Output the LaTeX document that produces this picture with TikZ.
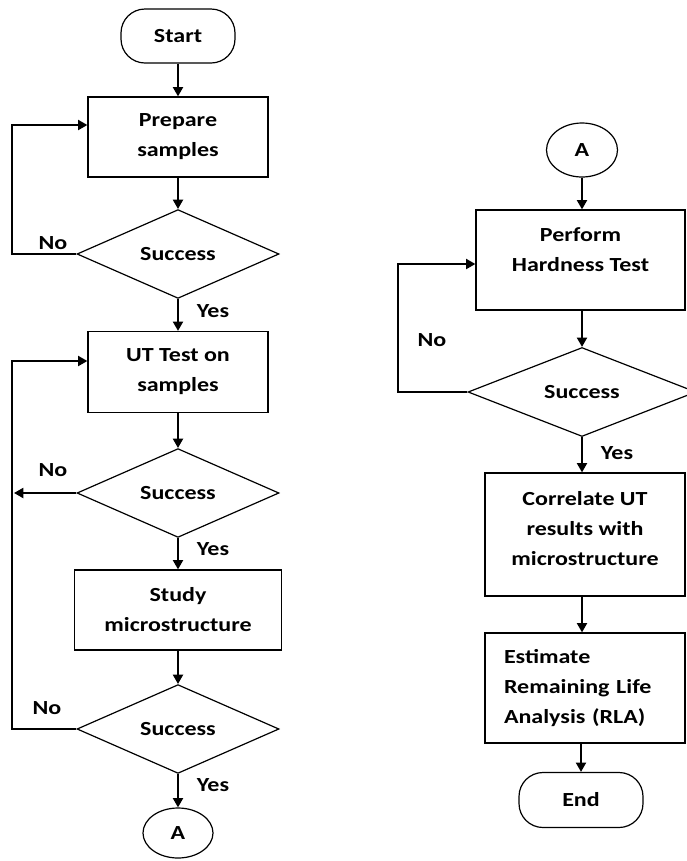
\documentclass[tikz,border=0pt]{standalone}
\usepackage{fontspec}
\setmainfont{Carlito}[FakeStretch=1.2]
\usepackage{tikz}
\usetikzlibrary{positioning,arrows.meta,shapes.geometric,calc}
\tikzset{
  base/.style={
    draw=black,
    line width=0.9pt,
    inner sep=0pt,
    align=center,
    font=\fontsize{15}{22.5}\selectfont\bfseries
  },
  terminal/.style={
    base,
    rectangle,
    rounded corners=18pt
  },
  process/.style={
    base,
    rectangle
  },
  decision/.style={
    base,
    diamond,
    minimum width=151.5pt,
    minimum height=65.25pt
  },
  connector/.style={
    base,
    ellipse
  },
  lbl/.style={
    font=\fontsize{15}{18}\selectfont\bfseries
  },
  arrow/.style={
    -{Triangle[length=7pt,width=7.5pt]},
    line width=1.5pt
  },
  line/.style={
    line width=1.5pt
  }
}
\begin{document}
\begin{tikzpicture}[x=0.75pt,y=-0.75pt]
  \useasboundingbox (0,0) rectangle (686,861);

  % Left column
  \node[terminal, minimum width=85.5pt, minimum height=40.5pt] (start) at (178,36) {Start};
  \node[process, minimum width=135pt, minimum height=60pt] (prep) at (178,137) {Prepare\\samples};
  \node[decision] (dec1) at (178,254) {Success};
  \node[process, minimum width=135pt, minimum height=60.75pt] (ut) at (178,372) {UT Test on\\samples};
  \node[decision] (dec2) at (178,493) {Success};
  \node[process, minimum width=155.25pt, minimum height=60pt] (study) at (178,610) {Study\\microstructure};
  \node[decision] (dec3) at (178,729) {Success};
  \node[connector, minimum width=52.5pt, minimum height=37.5pt] (a1) at (178,833) {A};
  \coordinate (join) at (14,493);

  \node[lbl] (no1) at (53,243) {No};
  \node[lbl] (yes1) at (213,311) {Yes};
  \node[lbl] (no2) at (53,470) {No};
  \node[lbl] (yes2) at (213,549) {Yes};
  \node[lbl] (no3) at (47,708) {No};
  \node[lbl] (yes3) at (213,785) {Yes};

  \draw[arrow] (start) -- (prep);
  \draw[arrow] (prep) -- (dec1);
  \draw[arrow] (dec1) -- (ut);
  \draw[arrow] (ut) -- (dec2);
  \draw[arrow] (dec2) -- (study);
  \draw[arrow] (study) -- (dec3);
  \draw[arrow] (dec3) -- (a1);
  \draw[arrow] (dec1.west) -- ++(-64,0) |- ([yshift=9pt]prep.west);
  \draw[arrow] (dec2.west) -- (join);
  \draw[arrow] (dec3.west) -- ++(-64,0) |- ([yshift=8.25pt]ut.west);

  % Right column
  \node[connector, minimum width=53.25pt, minimum height=40.5pt] (a2) at (582,150) {A};
  \node[process, minimum width=156.75pt, minimum height=75pt] (perf) at (580.5,260) {Perform\\Hardness Test\\[-7.5pt]};
  \node[decision, minimum width=171pt, minimum height=66.75pt] (dec4) at (582,392) {Success};
  \node[process, minimum width=150pt, minimum height=92.25pt] (corr) at (585,534.5) {Correlate UT\\results with\\microstructure\\[-13.5pt]};
  \node[process, minimum width=150pt, minimum height=82.5pt, align=left, text width=121.5pt, inner xsep=14.25pt] (est) at (585,688) {Estimate\\Remaining Life\\Analysis (RLA)};
  \node[terminal, minimum width=93pt, minimum height=41.25pt] (end) at (581,800) {End};

  \node[lbl] (no4) at (432,340) {No};
  \node[lbl] (yes4) at (617,453) {Yes};

  \draw[arrow] (a2) -- (a2 |- perf.north);
  \draw[arrow] (perf.south -| dec4) -- (dec4.north);
  \draw[arrow] (dec4.south) -- (dec4 |- corr.north);
  \draw[arrow] (corr.south -| dec4) -- (dec4 |- est.north);
  \draw[arrow] (est.south -| end) -- (end.north);
  \draw[arrow] (dec4.west) -- ++(-69,0) |- ([yshift=-3pt]perf.west);
\end{tikzpicture}
\end{document}
